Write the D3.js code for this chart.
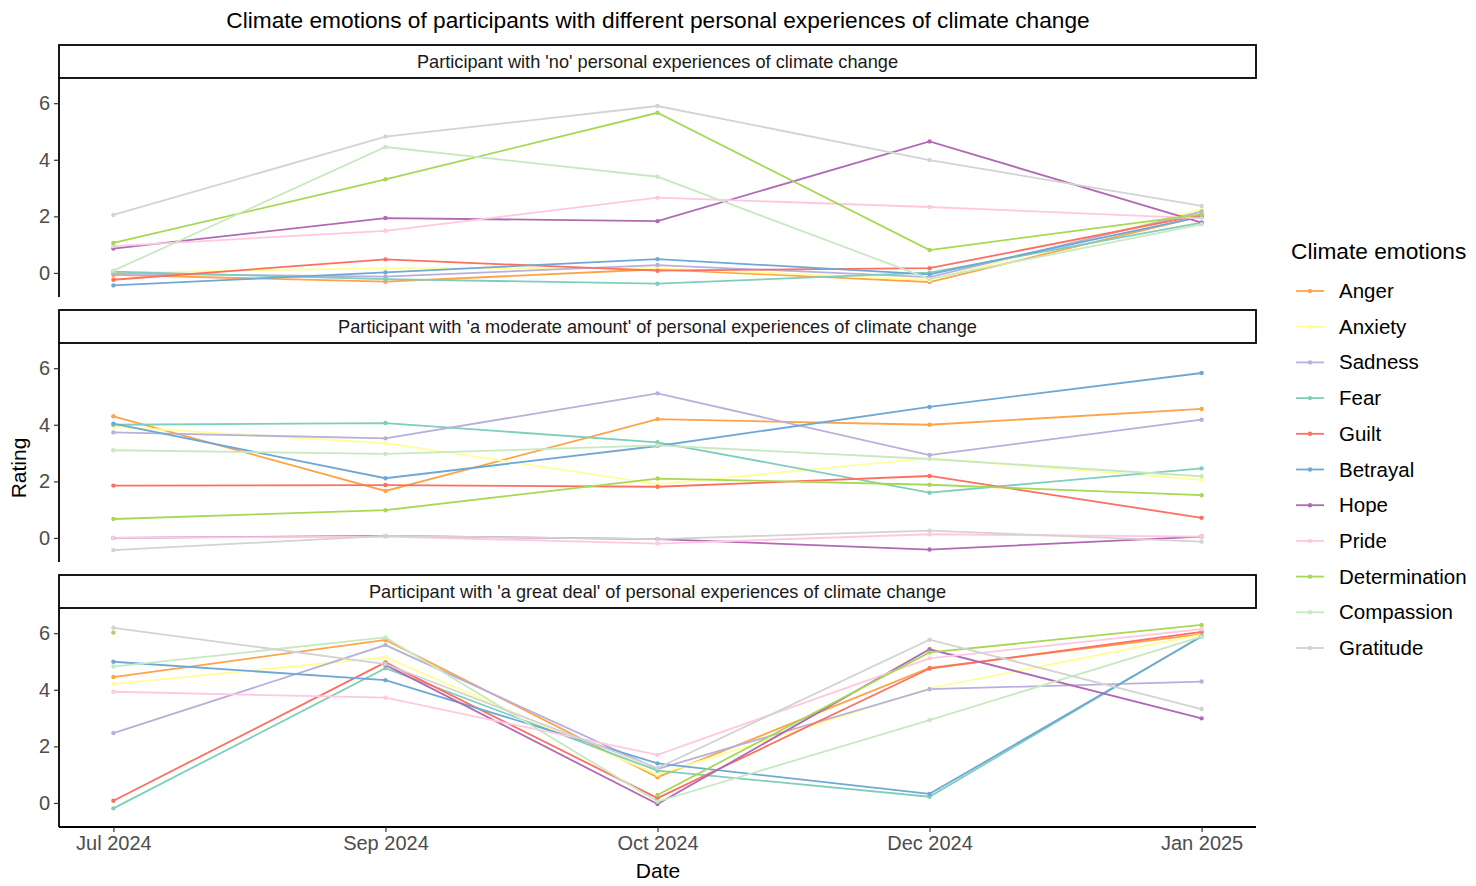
<!DOCTYPE html>
<html>
<head>
<meta charset="utf-8">
<script src="https://cdn.jsdelivr.net/npm/d3@7"></script>
<style>
  body { margin: 0; background: #fff; }
  svg { font-family: "Liberation Sans", Arial, sans-serif; }
</style>
</head>
<body>
<svg id="chart" width="1476" height="886"></svg>
<script>
// dates on the x axis (shown evenly spaced)
var dates = ["Jul 2024", "Sep 2024", "Oct 2024", "Dec 2024", "Jan 2025"];

var emotions = ["Anger", "Anxiety", "Sadness", "Fear", "Guilt", "Betrayal",
                "Hope", "Pride", "Determination", "Compassion", "Gratitude"];

var colours = ["#FFA347", "#FFFF99", "#B8B0DC", "#7FCDBB", "#FF6F61", "#6FA8D6",
               "#B06AB3", "#FFC8E0", "#A6D854", "#C7E9C0", "#D3D3D3"];

var panels = ["Participant with 'no' personal experiences of climate change",
              "Participant with 'a moderate amount' of personal experiences of climate change",
              "Participant with 'a great deal' of personal experiences of climate change"];

var yTicks = [0, 2, 4, 6];

// ratings per emotion, one array per panel (order follows emotions)
var noExperience = [
    [-0.07, -0.31, 0.13, -0.32, 2.01],   // Anger
    [0.00, 0.17, 0.17, -0.25, 2.25],     // Anxiety
    [-0.02, -0.13, 0.28, -0.15, 2.17],   // Sadness
    [0.05, -0.22, -0.38, 0.01, 1.78],    // Fear
    [-0.24, 0.48, 0.08, 0.17, 2.05],     // Guilt
    [-0.44, 0.02, 0.49, -0.05, 1.99],    // Betrayal
    [0.86, 1.94, 1.83, 4.65, 1.78],      // Hope
    [0.95, 1.49, 2.66, 2.33, 1.93],      // Pride
    [1.06, 3.31, 5.66, 0.81, 2.07],      // Determination
    [0.08, 4.45, 3.40, -0.21, 1.72],     // Compassion
    [2.05, 4.82, 5.90, 3.99, 2.37]       // Gratitude
];

var moderateExperience = [
    [4.30, 1.66, 4.20, 4.00, 4.56],
    [3.93, 3.35, 1.90, 2.82, 2.05],
    [3.73, 3.52, 5.11, 2.93, 4.18],
    [4.00, 4.06, 3.38, 1.60, 2.46],
    [1.85, 1.87, 1.81, 2.19, 0.71],
    [4.04, 2.11, 3.25, 4.63, 5.83],
    [0.00, 0.07, -0.04, -0.41, 0.05],
    [0.00, 0.05, -0.20, 0.13, 0.05],
    [0.67, 0.98, 2.10, 1.88, 1.51],
    [3.10, 2.97, 3.27, 2.79, 2.18],
    [-0.43, 0.07, -0.04, 0.26, -0.13]
];

var greatExperience = [
    [4.45, 5.76, 0.91, 4.77, 5.97],
    [4.20, 5.15, 1.00, 4.05, 5.95],
    [2.47, 5.58, 1.20, 4.02, 4.29],
    [-0.19, 4.76, 1.14, 0.22, 5.90],
    [0.08, 4.97, 0.17, 4.75, 6.05],
    [4.99, 4.34, 1.40, 0.32, 5.88],
    [null, 4.88, -0.04, 5.43, 2.99],
    [3.93, 3.72, 1.70, 5.11, 6.14],
    [6.02, null, 0.28, 5.32, 6.29],
    [4.82, 5.85, 0.05, 2.93, 5.88],
    [6.19, 4.91, 1.23, 5.77, 3.32]
];

var panelData = [noExperience, moderateExperience, greatExperience];

var svg = d3.select("#chart");

var left = 59, right = 1256;
var stripTops = [45, 310, 575];
var stripH = 33;
var plotH = 219;

var x = d3.scaleLinear().domain([0.8, 5.2]).range([left, right]);
var color = d3.scaleOrdinal().domain(emotions).range(colours);

// title
svg.append("text")
    .attr("x", 658).attr("y", 28)
    .attr("text-anchor", "middle")
    .attr("font-size", 22.7)
    .attr("fill", "#000")
    .text("Climate emotions of participants with different personal experiences of climate change");

panels.forEach(function(label, p) {
    var top = stripTops[p] + stripH;
    var y = d3.scaleLinear().domain([-0.85, 6.89]).range([top + plotH, top]);

    // strip
    svg.append("rect")
        .attr("x", left).attr("y", stripTops[p])
        .attr("width", right - left).attr("height", stripH)
        .attr("fill", "#fff").attr("stroke", "#000").attr("stroke-width", 1.8);
    svg.append("text")
        .attr("x", (left + right) / 2).attr("y", stripTops[p] + 22.5)
        .attr("text-anchor", "middle")
        .attr("font-size", 18.2)
        .attr("fill", "#1a1a1a")
        .text(label);

    // y axis
    var yAxis = svg.append("g")
        .attr("transform", "translate(" + left + ",0)")
        .call(d3.axisLeft(y).tickValues(yTicks).tickSize(5).tickPadding(4));
    yAxis.select(".domain").attr("stroke", "#000").attr("stroke-width", 1.8)
        .attr("d", "M0," + (top + plotH) + "V" + top);
    yAxis.selectAll(".tick line").attr("stroke", "#333").attr("stroke-width", 1.2);
    yAxis.selectAll(".tick text").attr("font-size", 20).attr("fill", "#4d4d4d")
        .attr("font-family", "Liberation Sans, Arial, sans-serif");

    var rows = panelData[p];
    var line = d3.line()
        .defined(function(d) { return d != null; })
        .x(function(d, i) { return x(i + 1); })
        .y(function(d) { return y(d); });

    var g = svg.append("g");
    g.selectAll(".series")
        .data(rows)
        .enter().append("path")
        .attr("class", "series")
        .attr("d", function(d) { return line(d); })
        .attr("fill", "none")
        .attr("stroke", function(d, i) { return colours[i]; })
        .attr("stroke-width", 1.8);

    rows.forEach(function(vals, i) {
        g.selectAll(".pt" + i)
            .data(vals.map(function(v, j) { return { v: v, j: j }; })
                .filter(function(d) { return d.v != null; }))
            .enter().append("circle")
            .attr("cx", function(d) { return x(d.j + 1); })
            .attr("cy", function(d) { return y(d.v); })
            .attr("r", 2.2)
            .attr("fill", colours[i]);
    });

    // x axis only on the last panel
    if (p == panels.length - 1) {
        var xAxis = svg.append("g")
            .attr("transform", "translate(0," + (top + plotH) + ")")
            .call(d3.axisBottom(x).tickValues([1, 2, 3, 4, 5])
                .tickFormat(function(d) { return dates[d - 1]; })
                .tickSize(5).tickPadding(4));
        xAxis.select(".domain").attr("stroke", "#000").attr("stroke-width", 1.8)
            .attr("d", "M" + left + ",0H" + right);
        xAxis.selectAll(".tick line").attr("stroke", "#333").attr("stroke-width", 1.2);
        xAxis.selectAll(".tick text").attr("font-size", 20).attr("fill", "#4d4d4d")
            .attr("font-family", "Liberation Sans, Arial, sans-serif");
    }
});

// axis titles
svg.append("text")
    .attr("x", 658).attr("y", 878)
    .attr("text-anchor", "middle")
    .attr("font-size", 21)
    .text("Date");
svg.append("text")
    .attr("transform", "translate(26,468) rotate(-90)")
    .attr("text-anchor", "middle")
    .attr("font-size", 21)
    .text("Rating");

// legend
var legend = svg.append("g").attr("transform", "translate(1291,0)");
legend.append("text")
    .attr("x", 0).attr("y", 259)
    .attr("font-size", 22.7)
    .text("Climate emotions");

var items = legend.selectAll(".item")
    .data(emotions)
    .enter().append("g")
    .attr("class", "item")
    .attr("transform", function(d, i) { return "translate(0," + (291 + i * 35.7) + ")"; });
items.append("line")
    .attr("x1", 5).attr("x2", 33)
    .attr("stroke", function(d) { return color(d); })
    .attr("stroke-width", 1.8);
items.append("circle")
    .attr("cx", 19).attr("r", 2.2)
    .attr("fill", function(d) { return color(d); });
items.append("text")
    .attr("x", 48).attr("y", 7)
    .attr("font-size", 20.5)
    .text(function(d) { return d; });
</script>
</body>
</html>
